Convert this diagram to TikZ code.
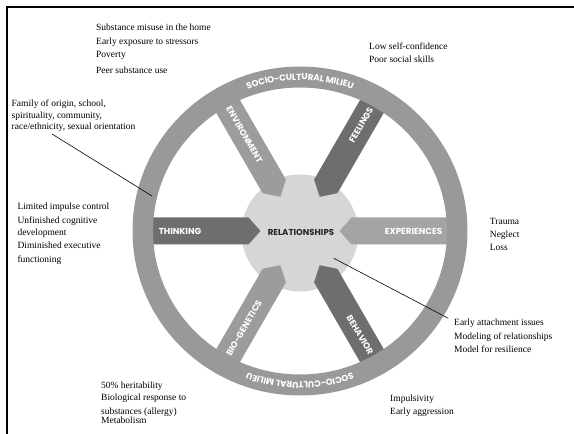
\documentclass[tikz,border=0pt]{standalone}
\usepackage{fontspec}
\setmainfont{Liberation Serif}
\newfontfamily\notefont{Liberation Serif}
\newfontfamily\labfont{Poppins}
\usetikzlibrary{decorations.text,calc}
\definecolor{ringgray}{HTML}{999999}
\definecolor{darkspoke}{HTML}{6E6E6E}
\definecolor{lightspoke}{HTML}{9C9C9C}
\definecolor{expspoke}{HTML}{A4A4A4}
\definecolor{hubgray}{HTML}{D6D6D6}
\newcommand\spokepath{(-160,13.5) -- (-51.5,13.5) -- (-39.5,0) -- (-51.5,-13.5) -- (-160,-13.5) -- cycle}
\begin{document}
\begin{tikzpicture}[x=1pt,y=1pt,
  note/.style={anchor=base west, inner sep=0pt, font=\notefont\fontsize{9.5}{11}\selectfont},
  spokelabel/.style={text=white, font=\labfont\bfseries\fontsize{8.7}{10}\selectfont, inner sep=0pt},
  link/.style={draw=black, line width=0.6pt}]
\useasboundingbox (0,0) rectangle (574,434);
\fill[white] (0,0) rectangle (574,434);
\coordinate (C) at (300,203);
% frame
\draw[line width=2pt] (7,0) -- (7,427) -- (574,427);
% hub
\node[circle, fill=hubgray, minimum size=117pt, inner sep=0pt] (hub) at (300,201) {};
% spokes
\fill[darkspoke, shift={(C)}, rotate=0] \spokepath;
\fill[expspoke, shift={(C)}, rotate=180] \spokepath;
\fill[lightspoke, shift={(C)}, rotate=-60] \spokepath;
\fill[darkspoke, shift={(C)}, rotate=-120] \spokepath;
\fill[lightspoke, shift={(C)}, rotate=60] \spokepath;
\fill[darkspoke, shift={(C)}, rotate=120] \spokepath;
% ring
\fill[ringgray, even odd rule] (C) ellipse [x radius=167.5pt, y radius=164.5pt]
  (C) ellipse [x radius=147pt, y radius=143.5pt];
% ring texts
\path[decorate, decoration={text along path, text align=center, raise=-3pt,
  text={|\labfont\bfseries\fontsize{8.8}{10}\selectfont\color{white}|SOCIO-CULTURAL MILIEU}}]
  (179.73,301.99) arc[start angle=140, end angle=40, x radius=157pt, y radius=154pt];
\path[decorate, decoration={text along path, text align=center, raise=-3pt,
  text={|\labfont\bfseries\fontsize{8.8}{10}\selectfont\color{white}|SOCIO-CULTURAL MILIEU}}]
  (420.27,104.01) arc[start angle=-40, end angle=-140, x radius=157pt, y radius=154pt];
% spoke labels
\node[spokelabel] (thinking) at ($(C)+(180:120)$) {THINKING};
\node[spokelabel] (experiences) at ($(C)+(0:113.5)$) {EXPERIENCES};
\node[spokelabel, rotate=-60] (environment) at ($(C)+(120:111)$) {ENVIRONMENT};
\node[spokelabel, rotate=60] (feelings) at ($(C)+(60:122)$) {FEELINGS};
\node[spokelabel, rotate=60] (biogen) at ($(C)+(240:112)$) {BIO-GENETICS};
\node[spokelabel, rotate=-60] (behavior) at ($(C)+(300:120)$) {BEHAVIOR};
\node[font=\labfont\bfseries\fontsize{8.6}{10}\selectfont, text=black!85, inner sep=0pt] (rel) at (301,202) {RELATIONSHIPS};
% notes
\node[note] (a1) at (96,403.2) {Substance misuse in the home};
\node[note] (a2) at (96,389) {Early exposure to stressors};
\node[note] (a3) at (96,376.4) {Poverty};
\node[note] (a4) at (96,360) {Peer substance use};
\node[note] (b1) at (369,384.9) {Low self-confidence};
\node[note] (b2) at (369,371.2) {Poor social skills};
\node[note] (c1) at (11.5,327.4) {Family of origin, school,};
\node[note] (c2) at (11.5,315.7) {spirituality, community,};
\node[note] (c3) at (11.5,304.7) {race/ethnicity, sexual orientation};
\node[note] (d1) at (17.3,224) {Limited impulse control};
\node[note] (d2) at (17.3,210.7) {Unfinished cognitive};
\node[note] (d3) at (17.3,198) {development};
\node[note] (d4) at (17.3,185.7) {Diminished executive};
\node[note] (d5) at (17.3,171.4) {functioning};
\node[note] (e1) at (489.7,209.7) {Trauma};
\node[note] (e2) at (489.7,196.4) {Neglect};
\node[note] (e3) at (489.7,183.4) {Loss};
\node[note] (f1) at (454,108.4) {Early attachment issues};
\node[note] (f2) at (454,94) {Modeling of relationships};
\node[note] (f3) at (454,81.4) {Model for resilience};
\node[note] (g1) at (390,32.4) {Impulsivity};
\node[note] (g2) at (390,19) {Early aggression};
\node[note] (h1) at (101,45.7) {50\% heritability};
\node[note] (h2) at (101,33.4) {Biological response to};
\node[note] (h3) at (101,19.7) {substances (allergy)};
\node[note] (h4) at (101,10) {Metabolism};
% connectors
\coordinate (famstart) at (52,300);
\coordinate (famend) at (152,238);
\draw[link] (famstart) -- (famend);
\coordinate (relstart) at (333.8,175.7);
\coordinate (relend) at (448.3,115.7);
\draw[link] (relstart) -- (relend);
\end{tikzpicture}
\end{document}
